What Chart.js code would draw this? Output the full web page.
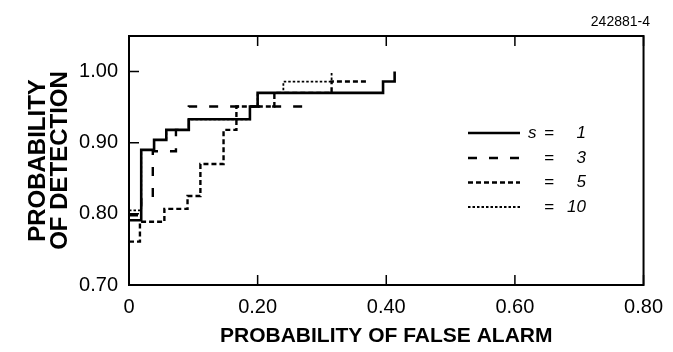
<!DOCTYPE html>
<html>
<head>
<meta charset="utf-8">
<script src="https://cdn.jsdelivr.net/npm/chart.js@4.4.0/dist/chart.umd.min.js"></script>
<style>
  html, body { margin: 0; padding: 0; background: #fff; }
</style>
</head>
<body>
<canvas id="rocChart" width="673" height="352"></canvas>
<script>
// each curve: false-alarm value where detection steps up, and detection value after the step
const s1FalseAlarm = [0, 0.019, 0.039, 0.058, 0.093, 0.188, 0.200, 0.395, 0.413];
const s1Detection  = [0.791, 0.890, 0.904, 0.918, 0.933, 0.951, 0.970, 0.986, 1.000];

const s3FalseAlarm = [0, 0.019, 0.037, 0.073, 0.093, 0.282];
const s3Detection  = [0.798, 0.822, 0.888, 0.918, 0.951, 0.951];

const s5FalseAlarm = [0, 0.017, 0.055, 0.091, 0.111, 0.147, 0.167, 0.226, 0.315, 0.373];
const s5Detection  = [0.761, 0.789, 0.807, 0.825, 0.870, 0.918, 0.951, 0.970, 0.986, 0.986];

const s10FalseAlarm = [0, 0.019, 0.039, 0.058, 0.093, 0.188, 0.200, 0.240, 0.315];
const s10Detection  = [0.805, 0.890, 0.904, 0.918, 0.933, 0.951, 0.970, 0.986, 1.000];

const legendPrefix = ['s', '', '', ''];
const legendValues = ['1', '3', '5', '10'];

const xTickValues = [0, 0.2, 0.4, 0.6, 0.8];
const xTickLabels = ['0', '0.20', '0.40', '0.60', '0.80'];
const yTickValues = [0.7, 0.8, 0.9, 1.0];
const yTickLabels = ['0.70', '0.80', '0.90', '1.00'];

const xTitle = 'PROBABILITY OF FALSE ALARM';
const yTitle = ['PROBABILITY', 'OF DETECTION'];
const figureId = '242881-4';

const FONT = '"Liberation Sans", Arial, Helvetica, sans-serif';

function toPoints(xs, ys) {
    return xs.map((x, i) => ({ x: x, y: ys[i] }));
}

const lineStyles = [
    { width: 2.6, dash: [] },
    { width: 2.4, dash: [9, 12] },
    { width: 2.4, dash: [5, 3] },
    { width: 1.8, dash: [2.5, 2] }
];

const seriesData = [
    toPoints(s1FalseAlarm, s1Detection),
    toPoints(s3FalseAlarm, s3Detection),
    toPoints(s5FalseAlarm, s5Detection),
    toPoints(s10FalseAlarm, s10Detection)
];

const datasets = seriesData.map((pts, i) => ({
    label: 's = ' + legendValues[i],
    data: pts,
    borderColor: '#000',
    borderWidth: lineStyles[i].width,
    borderDash: lineStyles[i].dash,
    borderCapStyle: 'butt',
    stepped: 'before',
    pointRadius: 0,
    fill: false
}));

// frame box with inward tick marks, legend and figure number
const decorations = {
    id: 'decorations',
    afterDatasetsDraw(chart) {
        const ctx = chart.ctx;
        const area = chart.chartArea;
        const xs = chart.scales.x;
        const ys = chart.scales.y;
        ctx.save();
        ctx.strokeStyle = '#000';
        ctx.setLineDash([]);
        ctx.lineWidth = 2;
        ctx.strokeRect(area.left, area.top, area.right - area.left, area.bottom - area.top);

        ctx.lineWidth = 1.5;
        ctx.beginPath();
        xTickValues.forEach(v => {
            const px = xs.getPixelForValue(v);
            ctx.moveTo(px, area.bottom);
            ctx.lineTo(px, area.bottom - 10);
            ctx.moveTo(px, area.top);
            ctx.lineTo(px, area.top + 10);
        });
        yTickValues.forEach(v => {
            const py = ys.getPixelForValue(v);
            ctx.moveTo(area.left, py);
            ctx.lineTo(area.left + 10, py);
        });
        ctx.stroke();

        // legend
        const rowY = [133, 158, 182.5, 207];
        ctx.font = 'italic 17px ' + FONT;
        ctx.fillStyle = '#000';
        ctx.textBaseline = 'middle';
        lineStyles.forEach((st, i) => {
            ctx.lineWidth = st.width;
            ctx.setLineDash(st.dash);
            ctx.beginPath();
            ctx.moveTo(468, rowY[i]);
            ctx.lineTo(520, rowY[i]);
            ctx.stroke();
            ctx.textAlign = 'left';
            if (legendPrefix[i]) ctx.fillText(legendPrefix[i], 528, rowY[i]);
            ctx.fillText('=', 544, rowY[i]);
            ctx.textAlign = 'right';
            ctx.fillText(legendValues[i], 586, rowY[i]);
        });

        ctx.setLineDash([]);
        ctx.font = '14px ' + FONT;
        ctx.textAlign = 'right';
        ctx.fillText(figureId, 650, 22);
        ctx.restore();
    }
};

new Chart(document.getElementById('rocChart'), {
    type: 'line',
    data: { datasets },
    options: {
        responsive: false,
        animation: false,
        devicePixelRatio: 1,
        layout: { padding: { top: 36, right: 21, left: 0, bottom: 0 } },
        plugins: {
            legend: { display: false },
            tooltip: { enabled: false }
        },
        scales: {
            x: {
                type: 'linear',
                min: 0,
                max: 0.8,
                afterBuildTicks: scale => {
                    scale.ticks = xTickValues.map(v => ({ value: v }));
                },
                afterFit: scale => { scale.height = 67; },
                grid: { display: false, drawTicks: false },
                border: { display: false },
                ticks: {
                    autoSkip: false,
                    maxRotation: 0,
                    padding: 10,
                    color: '#000',
                    font: { family: FONT, size: 20 },
                    callback: (value, index) => xTickLabels[index]
                },
                title: {
                    display: true,
                    text: xTitle,
                    color: '#000',
                    font: { family: FONT, size: 21, weight: 'bold' },
                    padding: { top: 0, bottom: 3 }
                }
            },
            y: {
                type: 'linear',
                min: 0.7,
                max: 1.05,
                afterBuildTicks: scale => {
                    scale.ticks = yTickValues.map(v => ({ value: v }));
                },
                afterFit: scale => { scale.width = 129; },
                grid: { display: false, drawTicks: false },
                border: { display: false },
                ticks: {
                    padding: 11,
                    color: '#000',
                    font: { family: FONT, size: 20 },
                    callback: (value, index) => yTickLabels[index]
                },
                title: {
                    display: true,
                    text: yTitle,
                    color: '#000',
                    font: { family: FONT, size: 24, weight: 'bold', lineHeight: 0.92 },
                    padding: { top: 27, bottom: 0 }
                }
            }
        }
    },
    plugins: [decorations]
});
</script>
</body>
</html>
